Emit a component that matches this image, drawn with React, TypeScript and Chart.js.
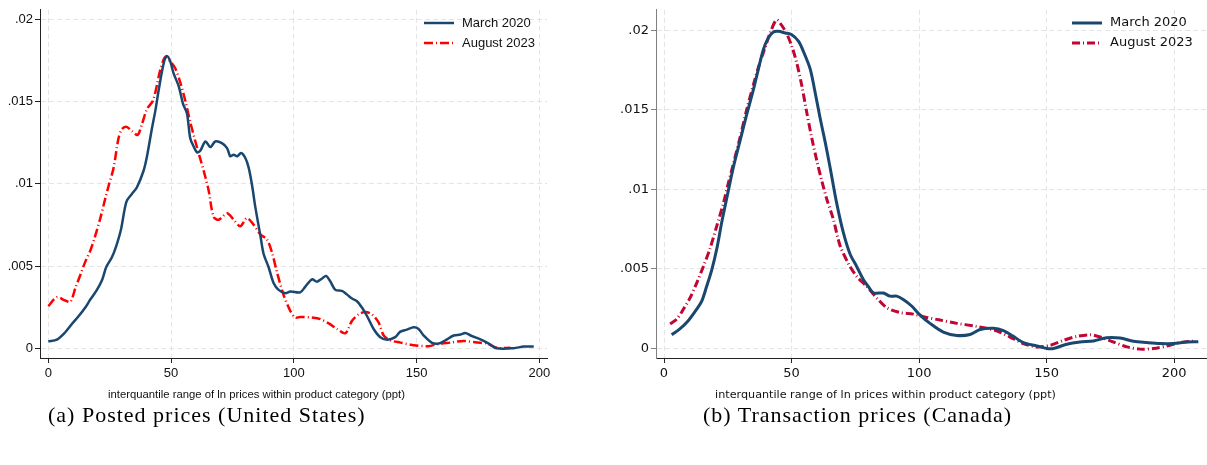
import React, { useEffect, useRef } from "react";
import { Chart, registerables } from "chart.js";

Chart.register(...registerables);

// ---------- DATA ----------
const xTicks = [0, 50, 100, 150, 200];
const yTicks = [0, 0.005, 0.01, 0.015, 0.02];
const yTickLabels = ["0", ".005", ".01", ".015", ".02"];
const seriesLabels = ["March 2020", "August 2023"];
const xAxisTitle = "interquantile range of ln prices within product category (ppt)";
const captionUS = "(a) Posted prices (United States)";
const captionCA = "(b) Transaction prices (Canada)";

// (a) United States, March 2020
const usMarX = [0, 3.5, 6.9, 9.6, 12.4, 15, 17.1, 19.8, 21.9, 23.6, 25.9, 27.7, 29.6, 31.8, 34.1, 36.1, 38.8, 40.2, 42.2, 43.6, 45, 47, 48.3, 49.7, 51, 53.1, 54.9, 56.5, 57.8, 59.2, 60.6, 61.9, 64, 66, 68, 70.7, 72.8, 74.1, 75.5, 76.9, 78.5, 80.2, 81.6, 83, 84.3, 86.4, 87.7, 89.7, 91.8, 93.8, 96.5, 98.6, 102.6, 104.7, 107.4, 109.4, 111.5, 113.1, 114.9, 116.9, 119.6, 121.7, 123.7, 125.7, 127.8, 129.8, 132.5, 135.2, 138, 141.3, 143.4, 146.1, 148.8, 150.8, 152.9, 156.3, 159, 161.7, 165.1, 167.8, 169.9, 172.6, 176, 179.4, 182.5, 189.5, 193.6, 197.7];
const usMarY = [0.00042, 0.00052, 0.00097, 0.00147, 0.00196, 0.00246, 0.00296, 0.00355, 0.00415, 0.00494, 0.00553, 0.00623, 0.00722, 0.00891, 0.0094, 0.0098, 0.0108, 0.01168, 0.01337, 0.01446, 0.01575, 0.01734, 0.01778, 0.01744, 0.01674, 0.01595, 0.01486, 0.01427, 0.01278, 0.01228, 0.01192, 0.01202, 0.01258, 0.01224, 0.01258, 0.01248, 0.01218, 0.01168, 0.01178, 0.01168, 0.01188, 0.01159, 0.01099, 0.0099, 0.0086, 0.00683, 0.00573, 0.00494, 0.00395, 0.00355, 0.00335, 0.00345, 0.0034, 0.00375, 0.00419, 0.00405, 0.00424, 0.0044, 0.00405, 0.00355, 0.00349, 0.00326, 0.00302, 0.00286, 0.00246, 0.00196, 0.00117, 0.00067, 0.00052, 0.00067, 0.00101, 0.00113, 0.00127, 0.00117, 0.00077, 0.00032, 0.00028, 0.00048, 0.00077, 0.00083, 0.00093, 0.00073, 0.00054, 0.00028, 0, 0, 0.0001, 0.0001];

// (a) United States, August 2023
const usAugX = [0, 3.5, 6.9, 9, 11, 13, 15, 17.1, 19.1, 21.2, 23.2, 24.6, 26.6, 28.6, 30, 31.8, 34.1, 36.4, 38.2, 40.2, 42.6, 44.3, 45.6, 47.7, 49.7, 51.7, 53.8, 55.8, 57.8, 59.9, 61.6, 63.3, 65.3, 67.3, 69.4, 72.8, 75.5, 78.2, 80.9, 83.6, 86.4, 89, 91.1, 93.1, 95.8, 98.6, 100.6, 102.6, 108, 110.8, 114.2, 117.6, 121, 123.7, 126.4, 129.1, 131.8, 134.5, 136.6, 139.3, 143.4, 148.8, 154.9, 158.3, 163.7, 169.2, 174.6, 178.7, 182.8, 188.2];
const usAugY = [0.00256, 0.0031, 0.0029, 0.00282, 0.00365, 0.00444, 0.00524, 0.00593, 0.00683, 0.00792, 0.00911, 0.0099, 0.01099, 0.01278, 0.01333, 0.01347, 0.01321, 0.01298, 0.01367, 0.01456, 0.01506, 0.01605, 0.01694, 0.01774, 0.01744, 0.01704, 0.01615, 0.01506, 0.01377, 0.01258, 0.01168, 0.01079, 0.0096, 0.008, 0.00782, 0.00821, 0.00782, 0.00742, 0.00792, 0.00752, 0.00692, 0.00663, 0.00583, 0.00464, 0.00325, 0.00226, 0.00186, 0.0019, 0.00186, 0.00177, 0.00151, 0.00117, 0.00091, 0.00167, 0.00206, 0.0022, 0.00206, 0.00157, 0.00077, 0.00048, 0.00034, 0.00018, 0.00012, 0.00024, 0.00034, 0.00044, 0.00034, 0.00028, 0.00002, 0.00002];

// (b) Canada, March 2020
const caMarX = [3, 6.2, 9.5, 12.8, 14.8, 16.7, 18.7, 20.7, 22.6, 24.6, 27.2, 29.8, 32.4, 35, 37, 39, 40.9, 42.9, 44.8, 47.5, 50.1, 52.7, 54.6, 57.3, 59.2, 61.2, 63.1, 65.1, 67.7, 70.3, 72.9, 75.6, 78.2, 80.1, 82.1, 86, 88.6, 91.2, 93.8, 97.1, 100.4, 104.3, 109.5, 114.8, 120, 123.9, 129.1, 133.1, 137, 140.9, 146.2, 150.1, 152.7, 157.9, 163.1, 168.4, 173.6, 178.8, 184.1, 189.3, 194.5, 199.7, 205, 209.5];
const caMarY = [0.00086, 0.00123, 0.00175, 0.00247, 0.00298, 0.0039, 0.00493, 0.00627, 0.00791, 0.00945, 0.0114, 0.01305, 0.0147, 0.01624, 0.01757, 0.01881, 0.01953, 0.0199, 0.01994, 0.01984, 0.01973, 0.01932, 0.0187, 0.01758, 0.01614, 0.01449, 0.01305, 0.0114, 0.00914, 0.0073, 0.00596, 0.00514, 0.00432, 0.0039, 0.00349, 0.00349, 0.00329, 0.00329, 0.00308, 0.00267, 0.0021, 0.00158, 0.00103, 0.00082, 0.00088, 0.00119, 0.00127, 0.00113, 0.00076, 0.00037, 0.00016, 0, 0, 0.00027, 0.00041, 0.00047, 0.00068, 0.00066, 0.00045, 0.00037, 0.00031, 0.00031, 0.00041, 0.00043];

// (b) Canada, August 2023
const caAugX = [2.4, 5, 7.6, 10.2, 12.8, 15.4, 18, 20.7, 23.3, 25.2, 27.2, 29.8, 32.4, 35, 37, 39.6, 41.6, 44.1, 46, 48, 50.1, 52, 54, 55.9, 57.9, 59.9, 61.8, 63.8, 66.4, 69, 72.3, 75.6, 79.5, 83.4, 87.3, 92.5, 97.7, 103, 108.2, 114.8, 122.5, 127.8, 131.8, 135.7, 140.9, 146.2, 151.4, 156.6, 161.8, 167.1, 171, 176.2, 181.5, 186.7, 191.9, 197.1, 202.4, 208.2];
const caAugY = [0.00154, 0.00185, 0.00247, 0.00318, 0.00411, 0.00514, 0.00627, 0.00771, 0.00914, 0.01038, 0.01161, 0.01326, 0.015, 0.01655, 0.01767, 0.01891, 0.01983, 0.02066, 0.02035, 0.01983, 0.01901, 0.01798, 0.01655, 0.0149, 0.01326, 0.01182, 0.01058, 0.0094, 0.00812, 0.00648, 0.00534, 0.00452, 0.0039, 0.00318, 0.00257, 0.00226, 0.00216, 0.00195, 0.00179, 0.00158, 0.00139, 0.00123, 0.00102, 0.00072, 0.00031, 0.0001, 0.0002, 0.00051, 0.00076, 0.00086, 0.00072, 0.00041, 0.0001, -0.00004, 0, 0.00016, 0.00037, 0.00047];

// ---------- helpers ----------
const pts = (xs: number[], ys: number[]) => xs.map((x, i) => ({ x, y: ys[i] }));

const insideLegend = {
  id: "insideLegend",
  afterDraw(chart: any, _args: any, opts: any) {
    const ctx = chart.ctx;
    ctx.save();
    chart.data.datasets.forEach((ds: any, i: number) => {
      const y = opts.y0 + i * opts.dy;
      ctx.beginPath();
      ctx.strokeStyle = ds.borderColor;
      ctx.lineWidth = ds.borderWidth;
      ctx.setLineDash(ds.borderDash || []);
      ctx.moveTo(opts.x, y);
      ctx.lineTo(opts.x + opts.len, y);
      ctx.stroke();
      ctx.setLineDash([]);
      ctx.fillStyle = "#111";
      ctx.font = opts.font;
      ctx.textBaseline = "middle";
      ctx.textAlign = "left";
      ctx.fillText(ds.label, opts.x + opts.len + opts.gap, y);
    });
    ctx.restore();
  },
};

const axisTitle = {
  id: "axisTitle",
  afterDraw(chart: any, _args: any, opts: any) {
    const ctx = chart.ctx;
    ctx.save();
    ctx.fillStyle = "#111";
    ctx.font = opts.font;
    ctx.textAlign = "center";
    ctx.textBaseline = "middle";
    ctx.fillText(opts.text, opts.x, opts.y);
    ctx.restore();
  },
};

type PanelStyle = {
  width: number;
  height: number;
  xMin: number;
  xMax: number;
  yMin: number;
  yMax: number;
  yAxisWidth: number;
  xAxisHeight: number;
  padRight: number;
  tickFont: string;
  tickSize: number;
  titleFont: string;
  titleX: number;
  legendFont: string;
  legendX: number;
  yAxisColor: string;
  xAxisColor: string;
  redColor: string;
  blueWidth: number;
  redWidth: number;
  redDash: number[];
};

function makeConfig(s: PanelStyle, marX: number[], marY: number[], augX: number[], augY: number[]): any {
  const grid = (axisColor: string) => ({
    display: true,
    color: "#e4e4e4",
    lineWidth: 1,
    drawTicks: true,
    tickLength: 5,
    tickColor: axisColor,
    tickWidth: 1,
    tickBorderDash: [],
  });
  return {
    type: "line",
    data: {
      datasets: [
        {
          label: seriesLabels[0],
          data: pts(marX, marY),
          borderColor: "#1a476f",
          borderWidth: s.blueWidth,
          pointRadius: 0,
          tension: 0.3,
          fill: false,
        },
        {
          label: seriesLabels[1],
          data: pts(augX, augY),
          borderColor: s.redColor,
          borderWidth: s.redWidth,
          borderDash: s.redDash,
          pointRadius: 0,
          tension: 0.3,
          fill: false,
        },
      ],
    },
    options: {
      animation: false,
      responsive: false,
      maintainAspectRatio: false,
      devicePixelRatio: 1,
      layout: { padding: { left: 0, right: s.padRight, top: 3, bottom: 0 } },
      plugins: {
        legend: { display: false },
        tooltip: { enabled: false },
        insideLegend: {
          x: s.legendX,
          y0: 23,
          dy: 20,
          len: 30,
          gap: 8,
          font: s.legendFont,
        },
        axisTitle: {
          text: xAxisTitle,
          x: s.titleX,
          y: 395,
          font: s.titleFont,
        },
      },
      scales: {
        x: {
          type: "linear",
          min: s.xMin,
          max: s.xMax,
          afterFit: (sc: any) => {
            sc.height = s.xAxisHeight;
          },
          afterBuildTicks: (sc: any) => {
            sc.ticks = xTicks.map((v) => ({ value: v }));
          },
          ticks: {
            autoSkip: false,
            maxRotation: 0,
            padding: 3,
            color: "#111",
            font: { family: s.tickFont, size: s.tickSize },
            callback: (v: any) => String(v),
          },
          grid: grid(s.xAxisColor),
          border: { display: true, color: s.xAxisColor, width: 1, dash: [5, 3] },
          title: { display: false },
        },
        y: {
          type: "linear",
          min: s.yMin,
          max: s.yMax,
          afterFit: (sc: any) => {
            sc.width = s.yAxisWidth;
          },
          afterBuildTicks: (sc: any) => {
            sc.ticks = yTicks.map((v) => ({ value: v }));
          },
          ticks: {
            autoSkip: false,
            padding: 2,
            color: "#111",
            font: { family: s.tickFont, size: s.tickSize },
            callback: (v: any) => {
              const idx = yTicks.findIndex((t) => Math.abs(t - v) < 1e-9);
              return idx >= 0 ? yTickLabels[idx] : "";
            },
          },
          grid: grid(s.yAxisColor),
          border: { display: true, color: s.yAxisColor, width: 1, dash: [5, 3] },
        },
      },
    },
    plugins: [insideLegend, axisTitle],
  };
}

function Panel({ style, cfg }: { style: PanelStyle; cfg: () => any }) {
  const ref = useRef<HTMLCanvasElement | null>(null);
  useEffect(() => {
    if (!ref.current) return;
    const chart = new Chart(ref.current, cfg());
    return () => chart.destroy();
  }, []);
  return (
    <canvas
      ref={ref}
      width={style.width}
      height={style.height}
      style={{ width: style.width, height: style.height, display: "block" }}
    />
  );
}

const usStyle: PanelStyle = {
  width: 600,
  height: 410,
  xMin: -3.38,
  xMax: 203.1,
  yMin: -0.000597,
  yMax: 0.020597,
  yAxisWidth: 40,
  xAxisHeight: 52,
  padRight: 53,
  tickFont: "'Liberation Sans', Arial, sans-serif",
  tickSize: 13,
  titleFont: "11.3px 'Liberation Sans', Arial, sans-serif",
  titleX: 256.5,
  legendFont: "13px 'Liberation Sans', Arial, sans-serif",
  legendX: 424,
  yAxisColor: "#222",
  xAxisColor: "#222",
  redColor: "#ff0000",
  blueWidth: 2.5,
  redWidth: 2.5,
  redDash: [9, 3, 1, 3],
};

const caStyle: PanelStyle = {
  width: 607,
  height: 410,
  xMin: -3.14,
  xMax: 212.9,
  yMin: -0.000598,
  yMax: 0.021295,
  yAxisWidth: 56,
  xAxisHeight: 52,
  padRight: 0,
  tickFont: "'DejaVu Sans', sans-serif",
  tickSize: 13,
  titleFont: "11.2px 'DejaVu Sans', sans-serif",
  titleX: 285.5,
  legendFont: "13px 'DejaVu Sans', sans-serif",
  legendX: 472,
  yAxisColor: "#808080",
  xAxisColor: "#222",
  redColor: "#c10534",
  blueWidth: 3,
  redWidth: 3,
  redDash: [8, 3, 1, 3],
};

const captionStyle: React.CSSProperties = {
  position: "absolute",
  top: 404,
  fontFamily: "'Liberation Serif', 'Times New Roman', serif",
  fontSize: 22,
  lineHeight: "22px",
  letterSpacing: 1,
  color: "#000",
  whiteSpace: "nowrap",
};

export default function App() {
  return (
    <div
      style={{
        position: "absolute",
        left: 0,
        top: 0,
        width: 1207,
        height: 465,
        background: "#fff",
        overflow: "hidden",
      }}
    >
      <div style={{ position: "absolute", left: 0, top: 0 }}>
        <Panel style={usStyle} cfg={() => makeConfig(usStyle, usMarX, usMarY, usAugX, usAugY)} />
      </div>
      <div style={{ position: "absolute", left: 600, top: 0 }}>
        <Panel style={caStyle} cfg={() => makeConfig(caStyle, caMarX, caMarY, caAugX, caAugY)} />
      </div>
      <div style={{ ...captionStyle, left: 48 }}>{captionUS}</div>
      <div style={{ ...captionStyle, left: 703 }}>{captionCA}</div>
    </div>
  );
}
